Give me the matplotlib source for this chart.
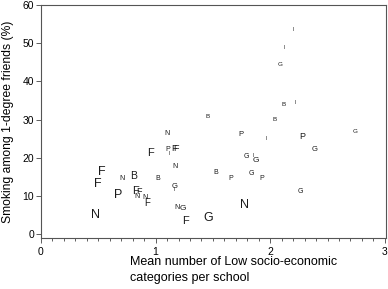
import matplotlib
matplotlib.use("Agg")
import matplotlib.pyplot as plt
from matplotlib.ticker import MultipleLocator

plt.rcParams['font.family'] = ['Liberation Sans', 'DejaVu Sans']

# one letter per school: region code, x = mean low SES categories, y = smoking among friends (%)
labels = ['I', 'I', 'G', 'B', 'I', 'B', 'B', 'N', 'P', 'I',
          'P', 'G', 'G', 'P', 'I', 'F', 'F', 'F', 'N', 'F',
          'N', 'B', 'B', 'B', 'P', 'G', 'P', 'G', 'I', 'G',
          'F', 'G', 'I', 'P', 'F', 'F', 'N', 'N', 'F', 'N',
          'G', 'N', 'F', 'G', 'G', 'N']
mean_low_ses = [2.20, 2.125, 2.09, 2.114, 2.222, 1.455, 2.034, 1.102, 1.747, 1.965,
                2.283, 2.74, 2.39, 1.105, 1.117, 1.157, 1.176, 0.951, 1.169, 0.527,
                0.711, 0.807, 1.021, 1.522, 1.659, 1.834, 1.93, 1.793, 1.848, 1.878,
                0.499, 1.166, 1.166, 0.671, 0.822, 0.855, 0.837, 0.907, 0.927, 1.187,
                1.239, 0.472, 1.262, 1.455, 2.265, 1.778]
smoking_friends = [53.7, 49.0, 44.5, 33.9, 34.4, 30.7, 30.0, 26.3, 26.2, 25.0,
                   25.6, 26.9, 22.3, 22.1, 21.2, 22.4, 22.4, 21.2, 17.7, 16.2,
                   14.7, 15.3, 14.7, 16.2, 14.7, 15.9, 14.7, 20.3, 20.5, 19.3,
                   13.2, 12.6, 11.6, 10.3, 11.3, 11.1, 9.8, 9.6, 8.2, 7.0,
                   6.6, 4.9, 3.5, 4.3, 11.3, 7.6]
# letter size reflects school size
school_size = [3.8, 3.8, 4.5, 4.5, 3.8, 4.5, 4.5, 5, 5.5, 3.8,
               6.5, 4.5, 5.5, 5, 3.8, 6.5, 6.5, 8, 5, 9,
               5, 7.5, 5, 5, 5, 5, 5, 5, 3.8, 6,
               9, 5.5, 3.8, 9, 8, 6.5, 5, 5, 7, 5,
               6, 9, 8, 9, 5, 9]

fig = plt.figure(figsize=(3.88, 2.89), dpi=100)
ax = fig.add_axes([41/388, 1-238/289, 345/388, 233/289])

for lab, x, y, s in zip(labels, mean_low_ses, smoking_friends, school_size):
    ax.text(x, y, lab, fontsize=s, ha='center', va='center', color='#1a1a1a')

ax.set_xlim(0, 3.01)
ax.set_ylim(-1, 60)
ax.xaxis.set_major_locator(MultipleLocator(1))
ax.xaxis.set_minor_locator(MultipleLocator(0.1))
ax.yaxis.set_major_locator(MultipleLocator(10))
ax.tick_params(which='both', direction='out', labelsize=7.5, color='#444444', width=0.6)
ax.tick_params(which='major', length=3.5)
ax.tick_params(which='minor', length=2)
ax.tick_params(axis='x', pad=3)
ax.tick_params(axis='y', pad=1.5)
for sp in ax.spines.values():
    sp.set_color('#555555')
    sp.set_linewidth(0.8)

ax.set_ylabel('Smoking among 1-degree friends (%)', fontsize=8.7)
ax.yaxis.set_label_coords(-0.078, 0.5)
fig.text(130/388, 1-256/289, 'Mean number of Low socio-economic\ncategories per school',
         fontsize=9, ha='left', va='top', linespacing=1.4)

fig.savefig('out.png', dpi=100)
